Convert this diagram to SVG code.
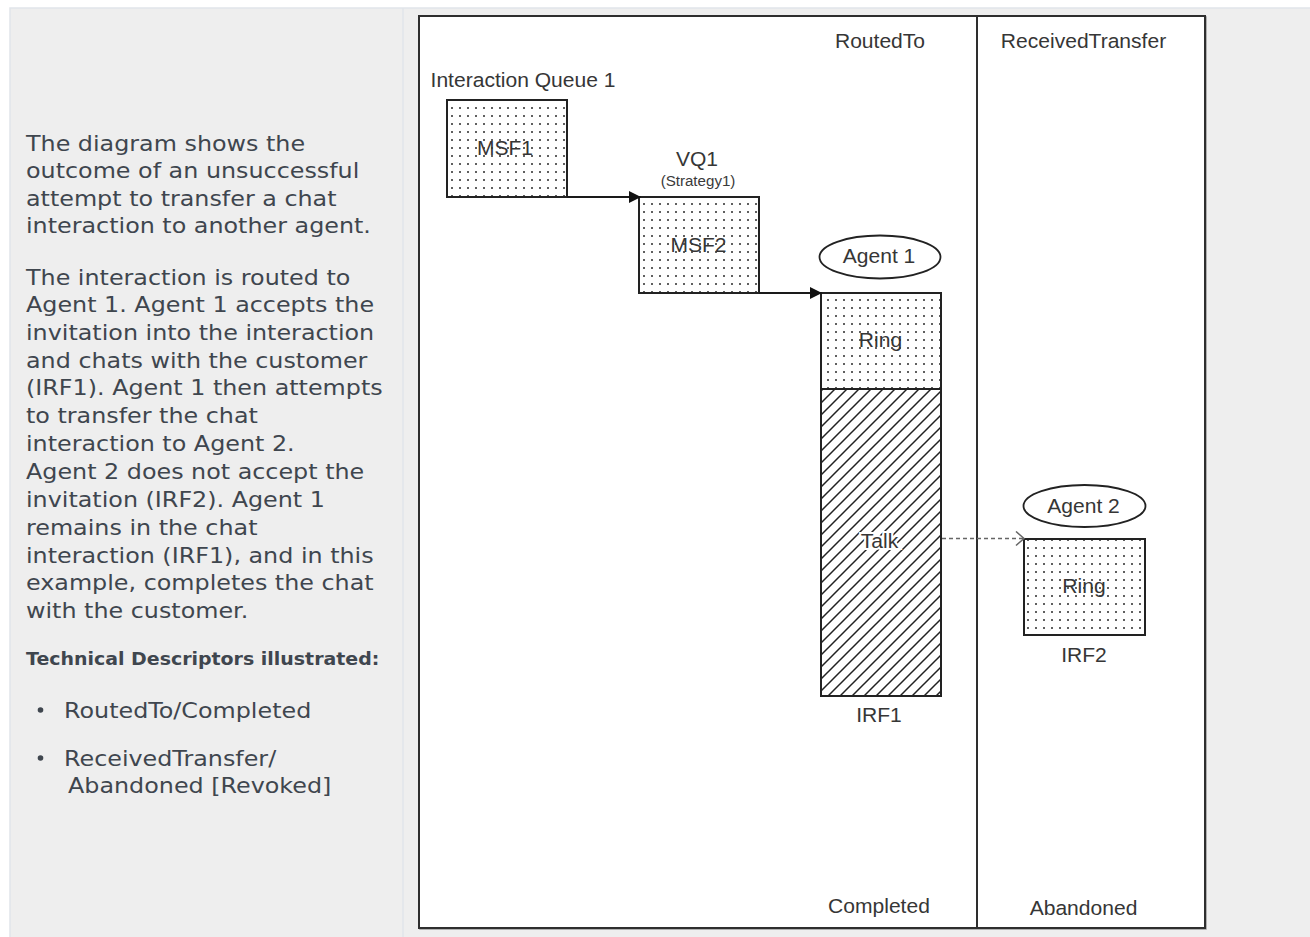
<svg xmlns="http://www.w3.org/2000/svg" width="1310" height="937" viewBox="0 0 1310 937">
  <style>
    .para { font-family: "DejaVu Sans", "Liberation Sans", sans-serif; font-size: 22px; fill: #3f464e; }
    .head { font-family: "DejaVu Sans", "Liberation Sans", sans-serif; font-size: 17.5px; font-weight: bold; fill: #3f464e; }
    .lbl { font-family: "Liberation Sans", Arial, sans-serif; font-size: 19.5px; fill: #363636; text-anchor: middle; }
    .small { font-family: "Liberation Sans", Arial, sans-serif; font-size: 14px; fill: #3a3a3a; text-anchor: middle; }
    .box { stroke: #222; stroke-width: 2; }
    .conn { stroke: #1a1a1a; stroke-width: 2; fill: none; }
    .dash { stroke: #666; stroke-width: 1.5; fill: none; stroke-dasharray: 4 3; }
  </style>
  <defs>
    <pattern id="dots" width="8" height="8" patternUnits="userSpaceOnUse">
      <rect width="8" height="8" fill="#fff"/>
      <circle cx="4" cy="4" r="1" fill="#2a2a2a"/>
    </pattern>
    <pattern id="hatch" width="12" height="12" patternUnits="userSpaceOnUse">
      <rect width="12" height="12" fill="#fff"/>
      <path d="M-3,3 L3,-3 M0,12 L12,0 M9,15 L15,9" stroke="#222" stroke-width="1.5"/>
    </pattern>
    <marker id="solidHead" markerWidth="14" markerHeight="14" refX="12" refY="7" orient="auto" markerUnits="userSpaceOnUse">
      <path d="M0,1 L12,7 L0,13 Z" fill="#111"/>
    </marker>
    <marker id="openHead" markerWidth="12" markerHeight="16" refX="10" refY="8" orient="auto" markerUnits="userSpaceOnUse">
      <path d="M2,1 L10,8 L2,15" fill="none" stroke="#666" stroke-width="1.5"/>
    </marker>
  </defs>

  <!-- page background -->
  <rect x="0" y="0" width="1310" height="937" fill="#ffffff"/>
  <rect x="10" y="8" width="1310" height="940" fill="#eeeeee" stroke="#e1e5ea" stroke-width="1.5"/>
  <line x1="403" y1="8" x2="403" y2="937" stroke="#e1e5ea" stroke-width="1.5"/>

  <!-- left description panel -->
  <g id="description">
    <g transform="translate(26 0) scale(1.083 1)">
      <text class="para" x="0" y="151">The diagram shows the</text>
      <text class="para" x="0" y="178.5">outcome of an unsuccessful</text>
      <text class="para" x="0" y="206">attempt to transfer a chat</text>
      <text class="para" x="0" y="233.5">interaction to another agent.</text>
      <text class="para" x="0" y="285">The interaction is routed to</text>
      <text class="para" x="0" y="312.5">Agent 1. Agent 1 accepts the</text>
      <text class="para" x="0" y="340">invitation into the interaction</text>
      <text class="para" x="0" y="368">and chats with the customer</text>
      <text class="para" x="0" y="395.5">(IRF1). Agent 1 then attempts</text>
      <text class="para" x="0" y="423">to transfer the chat</text>
      <text class="para" x="0" y="451">interaction to Agent 2.</text>
      <text class="para" x="0" y="479">Agent 2 does not accept the</text>
      <text class="para" x="0" y="507">invitation (IRF2). Agent 1</text>
      <text class="para" x="0" y="535">remains in the chat</text>
      <text class="para" x="0" y="563">interaction (IRF1), and in this</text>
      <text class="para" x="0" y="590.5">example, completes the chat</text>
      <text class="para" x="0" y="618">with the customer.</text>
      <text class="head" x="0" y="665">Technical Descriptors illustrated:</text>
      <text class="para" x="35.1" y="718">RoutedTo/Completed</text>
      <text class="para" x="35.1" y="766">ReceivedTransfer/</text>
      <text class="para" x="38.8" y="793">Abandoned [Revoked]</text>
    </g>
    <circle cx="40.5" cy="710" r="2.8" fill="#3f464e"/>
    <circle cx="40.5" cy="758" r="2.8" fill="#3f464e"/>
  </g>

  <!-- diagram frame -->
  <g id="frame">
    <rect x="420" y="17" width="786" height="912" fill="none" stroke="#9a9a9a" stroke-width="1.5"/>
    <rect x="419" y="16" width="786" height="912" fill="#ffffff" stroke="#2e2e2e" stroke-width="2"/>
    <line x1="977" y1="16" x2="977" y2="928" stroke="#2e2e2e" stroke-width="2"/>
    <text class="lbl" transform="translate(880 48) scale(1.08 1)">RoutedTo</text>
    <text class="lbl" transform="translate(1083.5 48) scale(1.08 1)">ReceivedTransfer</text>
    <text class="lbl" transform="translate(879 913) scale(1.08 1)">Completed</text>
    <text class="lbl" transform="translate(1083.5 915) scale(1.08 1)">Abandoned</text>
  </g>

  <g id="msf1">
    <text class="lbl" transform="translate(523 87) scale(1.08 1)">Interaction Queue 1</text>
    <rect class="box" x="447" y="100" width="120" height="97" fill="url(#dots)"/>
    <text class="lbl" transform="translate(505 155) scale(1.08 1)">MSF1</text>
  </g>

  <g id="msf2">
    <text class="lbl" transform="translate(697 166) scale(1.08 1)">VQ1</text>
    <text class="small" transform="translate(698 186) scale(1.08 1)">(Strategy1)</text>
    <rect class="box" x="639" y="197" width="120" height="96" fill="url(#dots)"/>
    <text class="lbl" transform="translate(698.5 252) scale(1.08 1)">MSF2</text>
  </g>

  <g id="agent1">
    <ellipse cx="880" cy="257" rx="60.5" ry="21.5" fill="#fff" stroke="#222" stroke-width="1.8"/>
    <text class="lbl" transform="translate(879 263) scale(1.08 1)">Agent 1</text>
  </g>

  <g id="irf1">
    <rect class="box" x="821" y="293" width="120" height="96" fill="url(#dots)"/>
    <rect class="box" x="821" y="389" width="120" height="307" fill="url(#hatch)"/>
    <text class="lbl" transform="translate(880.5 347) scale(1.08 1)">Ring</text>
    <text class="lbl" transform="translate(879.5 548) scale(1.08 1)" stroke="#fff" stroke-width="4" paint-order="stroke">Talk</text>
    <text class="lbl" transform="translate(879 722) scale(1.08 1)">IRF1</text>
  </g>

  <g id="agent2">
    <ellipse cx="1084.5" cy="506" rx="61" ry="21" fill="#fff" stroke="#222" stroke-width="1.8"/>
    <text class="lbl" transform="translate(1083.5 513) scale(1.08 1)">Agent 2</text>
  </g>

  <g id="irf2">
    <rect class="box" x="1024" y="539" width="121" height="96" fill="url(#dots)"/>
    <text class="lbl" transform="translate(1084 593) scale(1.08 1)">Ring</text>
    <text class="lbl" transform="translate(1084 662) scale(1.08 1)">IRF2</text>
  </g>

  <g id="connectors">
    <line class="conn" x1="567" y1="197" x2="641" y2="197" marker-end="url(#solidHead)"/>
    <line class="conn" x1="759" y1="293" x2="822" y2="293" marker-end="url(#solidHead)"/>
    <line class="dash" x1="942" y1="538.5" x2="1024" y2="538.5" marker-end="url(#openHead)"/>
  </g>
</svg>
